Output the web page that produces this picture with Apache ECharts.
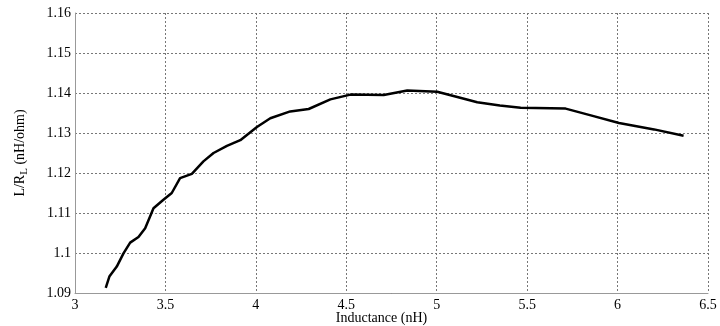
<!DOCTYPE html>
<html>
<head>
<meta charset="utf-8">
<script src="https://cdn.jsdelivr.net/npm/echarts@6/dist/echarts.min.js"></script>
<style>
  html, body { margin: 0; padding: 0; background: #fff; }
  #chart { width: 720px; height: 326px; }
</style>
</head>
<body>
<div id="chart"></div>
<script>
// inductance (nH) and L/RL (nH/ohm)
const inductance = [3.170, 3.190, 3.231, 3.268, 3.305, 3.351, 3.388, 3.434, 3.489, 3.535,
  3.581, 3.646, 3.710, 3.766, 3.840, 3.914, 4.006, 4.080, 4.190, 4.292,
  4.412, 4.523, 4.707, 4.837, 5.003, 5.114, 5.224, 5.349, 5.464, 5.713,
  5.852, 6.008, 6.202, 6.365];
const ratio = [1.0913, 1.0941, 1.0966, 1.0999, 1.1026, 1.1040, 1.1062, 1.1112, 1.1133, 1.1150,
  1.1187, 1.1198, 1.1229, 1.1250, 1.1268, 1.1282, 1.1315, 1.1337, 1.1354, 1.1360,
  1.1384, 1.1396, 1.1395, 1.1406, 1.1403, 1.1390, 1.1377, 1.1369, 1.1363, 1.1361,
  1.1344, 1.1325, 1.1309, 1.1293];

const font = "Liberation Serif";
const gridLine = { show: true, lineStyle: { color: "#777", type: [2, 2], width: 1 } };

const chart = echarts.init(document.getElementById("chart"), null, { renderer: "canvas" });
chart.setOption({
  animation: false,
  backgroundColor: "#fff",
  grid: { left: 75, right: 12, top: 13, bottom: 33, containLabel: false, outerBoundsMode: "none" },
  xAxis: {
    type: "value",
    min: 3,
    max: 6.5,
    interval: 0.5,
    name: "Inductance (nH)",
    nameLocation: "middle",
    nameGap: 18,
    nameMoveOverlap: false,
    nameTextStyle: { fontFamily: font, fontSize: 14, color: "#000", padding: [0, 20, 0, 0] },
    axisLine: { show: true, lineStyle: { color: "#999", width: 1 } },
    axisTick: { show: false },
    axisLabel: { fontFamily: font, fontSize: 14, color: "#000", margin: 5 },
    splitLine: gridLine
  },
  yAxis: {
    type: "value",
    min: 1.09,
    max: 1.16,
    interval: 0.01,
    name: "{a|L/R}{s|L}{a| (nH/ohm)}",
    nameLocation: "middle",
    nameRotate: 90,
    nameGap: 45,
    nameMoveOverlap: false,
    nameTextStyle: {
      rich: {
        a: { fontFamily: font, fontSize: 14, color: "#000" },
        s: { fontFamily: font, fontSize: 11, color: "#000", padding: [8, 0, 0, 0] }
      }
    },
    axisLine: { show: true, lineStyle: { color: "#999", width: 1 } },
    axisTick: { show: false },
    axisLabel: {
      fontFamily: font, fontSize: 14, color: "#000", margin: 4,
      formatter: v => String(parseFloat(v.toFixed(2)))
    },
    splitLine: gridLine
  },
  series: [{
    type: "line",
    data: inductance.map((x, i) => [x, ratio[i]]),
    showSymbol: false,
    smooth: false,
    lineStyle: { color: "#000", width: 2.5 }
  }]
});
</script>
</body>
</html>
